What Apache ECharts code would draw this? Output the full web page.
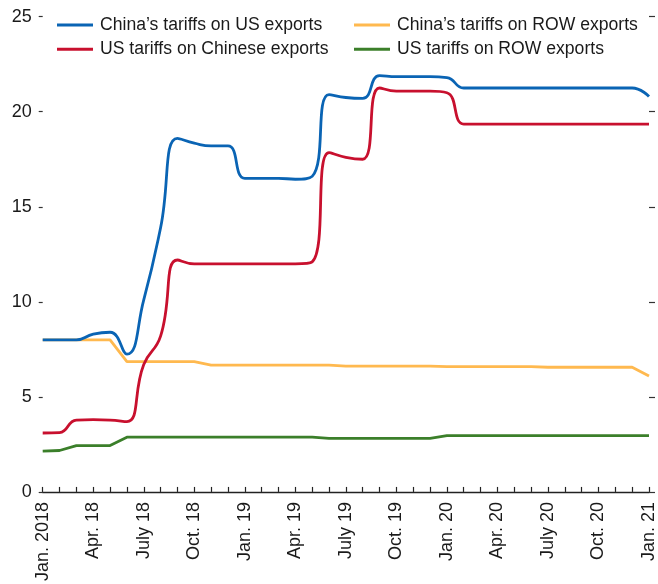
<!DOCTYPE html>
<html>
<head>
<meta charset="utf-8">
<script src="https://cdn.jsdelivr.net/npm/echarts@6/dist/echarts.min.js"></script>
<style>
html,body{margin:0;padding:0;background:#fff;}
#chart{width:658px;height:584px;}
</style>
</head>
<body>
<div id="chart"></div>
<script>
const months = [
  'Jan. 2018','Feb. 18','Mar. 18','Apr. 18','May 18','June 18','July 18','Aug. 18','Sep. 18','Oct. 18','Nov. 18','Dec. 18',
  'Jan. 19','Feb. 19','Mar. 19','Apr. 19','May 19','June 19','July 19','Aug. 19','Sep. 19','Oct. 19','Nov. 19','Dec. 19',
  'Jan. 20','Feb. 20','Mar. 20','Apr. 20','May 20','June 20','July 20','Aug. 20','Sep. 20','Oct. 20','Nov. 20','Dec. 20',
  'Jan. 21'
];
const seriesNames = [
  'China\u2019s tariffs on US exports',
  'US tariffs on Chinese exports',
  'China\u2019s tariffs on ROW exports',
  'US tariffs on ROW exports'
];
const chinaOnUS = [
  8.0, 8.0, 8.0, 8.3, 8.4, 7.25, 10.1, 13.9, 18.6, 18.35, 18.2, 18.2,
  16.5, 16.5, 16.5, 16.45, 16.6, 20.9, 20.75, 20.7, 21.9, 21.85, 21.85, 21.85,
  21.8, 21.25, 21.25, 21.25, 21.25, 21.25, 21.25, 21.25, 21.25, 21.25, 21.25, 21.25,
  20.8
];
const usOnChina = [
  3.1, 3.12, 3.78, 3.8, 3.78, 3.7, 6.7, 8.2, 12.2, 12.0, 12.0, 12.0,
  12.0, 12.0, 12.0, 12.0, 12.1, 17.85, 17.6, 17.5, 21.25, 21.08, 21.08, 21.08,
  21.0, 19.35, 19.35, 19.35, 19.35, 19.35, 19.35, 19.35, 19.35, 19.35, 19.35, 19.35,
  19.35
];
const chinaOnROW = [
  8.0, 8.0, 8.0, 8.0, 8.0, 6.85, 6.85, 6.85, 6.85, 6.85, 6.67, 6.67,
  6.67, 6.67, 6.67, 6.67, 6.67, 6.67, 6.62, 6.62, 6.62, 6.62, 6.62, 6.62,
  6.59, 6.59, 6.59, 6.59, 6.59, 6.59, 6.56, 6.56, 6.56, 6.56, 6.56, 6.56,
  6.1
];
const usOnROW = [
  2.15, 2.18, 2.44, 2.44, 2.44, 2.88, 2.88, 2.88, 2.88, 2.88, 2.88, 2.88,
  2.88, 2.88, 2.88, 2.88, 2.88, 2.82, 2.82, 2.82, 2.82, 2.82, 2.82, 2.82,
  2.96, 2.96, 2.96, 2.96, 2.96, 2.96, 2.96, 2.96, 2.96, 2.96, 2.96, 2.96,
  2.96
];
const yMin = 0, yMax = 25, yStep = 5;

const FONT = '"Liberation Sans",Arial,Helvetica,sans-serif';
const colors = ['#0a64b4', '#c8102e', '#ffb94f', '#3b7f2a'];

const chart = echarts.init(document.getElementById('chart'), null, {renderer: 'canvas'});
const legendCommon = {
  orient: 'vertical',
  icon: 'rect',
  itemWidth: 36,
  itemHeight: 3,
  itemGap: 4.3,
  textStyle: {fontFamily: FONT, fontSize: 17.6, color: '#1a1a1a', lineHeight: 20, padding: [0,0,0,2]},
  padding: 0
};
chart.setOption({
  animation: false,
  backgroundColor: '#fff',
  color: colors,
  textStyle: {fontFamily: FONT},
  legend: [
    Object.assign({left: 57, top: 15, data: [seriesNames[0], seriesNames[1]]}, legendCommon),
    Object.assign({left: 354, top: 15, data: [seriesNames[2], seriesNames[3]]}, legendCommon)
  ],
  grid: {left: 42.7, right: 6.3, top: 16.7, bottom: 87.3, containLabel: false},
  xAxis: {
    type: 'category',
    data: months,
    boundaryGap: false,
    axisLine: {show: true, lineStyle: {color: '#222', width: 1.3}},
    axisTick: {show: true, inside: true, length: 5, interval: 0, lineStyle: {color: '#222', width: 1.2}},
    axisLabel: {interval: 2, rotate: 90, margin: 10, fontFamily: FONT, fontSize: 18, color: '#1a1a1a'},
    splitLine: {show: false}
  },
  yAxis: [
    {
      type: 'value', min: yMin, max: yMax, interval: yStep,
      axisLine: {show: false},
      axisTick: {show: true, length: 4, lineStyle: {color: '#333', width: 1.2}},
      axisLabel: {margin: 11, fontFamily: FONT, fontSize: 18, color: '#1a1a1a'},
      splitLine: {show: false}
    },
    {
      type: 'value', min: yMin, max: yMax, interval: yStep, position: 'right',
      axisLine: {show: false},
      axisTick: {show: true, length: 6, lineStyle: {color: '#333', width: 1.2}},
      axisLabel: {show: false},
      splitLine: {show: false}
    }
  ],
  series: [
    {name: seriesNames[0], type: 'line', data: chinaOnUS, smooth: true, symbol: 'none', lineStyle: {width: 2.8, color: colors[0]}, z: 4},
    {name: seriesNames[1], type: 'line', data: usOnChina, smooth: true, symbol: 'none', lineStyle: {width: 2.8, color: colors[1]}, z: 3},
    {name: seriesNames[2], type: 'line', data: chinaOnROW, smooth: false, symbol: 'none', lineStyle: {width: 2.8, color: colors[2]}, z: 2},
    {name: seriesNames[3], type: 'line', data: usOnROW, smooth: false, symbol: 'none', lineStyle: {width: 2.8, color: colors[3]}, z: 2}
  ]
});
</script>
</body>
</html>
